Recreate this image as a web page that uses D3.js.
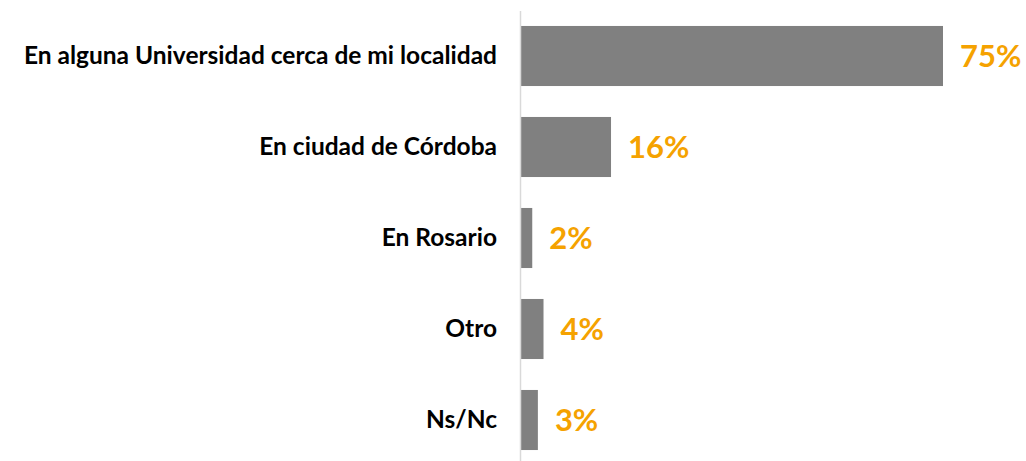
<!DOCTYPE html>
<html>
<head>
<meta charset="utf-8">
<script src="https://cdn.jsdelivr.net/npm/d3@7"></script>
<style>
    body { margin: 0; background: #fff; }
    .cat-axis text { font-family: Lato, "Open Sans", sans-serif; font-weight: 700; fill: #000; }
    .cat-axis path { stroke: #d9d9d9; stroke-width: 1.5; }
    .value-label { font-family: Lato, "Open Sans", sans-serif; font-weight: 700; fill: #f5a200; }
</style>
</head>
<body>
<div class="chart"></div>
<script>
(function () {
    "use strict";

    var categories = [
        'En alguna Universidad cerca de mi localidad',
        'En ciudad de Córdoba',
        'En Rosario',
        'Otro',
        'Ns/Nc'
    ];
    var values = [75, 16, 2, 4, 3];
    var valueLabels = ['75%', '16%', '2%', '4%', '3%'];

    var width = 1026, height = 461;

    var svg = d3.select('.chart').append('svg')
        .attr('width', width)
        .attr('height', height);

    var y = d3.scaleBand()
        .domain(categories)
        .range([10.5, 465.5])
        .paddingInner(0.34)
        .paddingOuter(0.17);

    var x = d3.scaleLinear()
        .domain([0, d3.max(values)])
        .range([521, 943]);

    var data = categories.map(function (c, i) {
        return { name: c, value: values[i], label: valueLabels[i] };
    });

    svg.selectAll('.bar')
        .data(data)
        .enter().append('rect')
        .attr('class', 'bar')
        .attr('x', x(0))
        .attr('y', function (d) { return y(d.name); })
        .attr('width', function (d) { return x(d.value) - x(0); })
        .attr('height', y.bandwidth())
        .attr('fill', '#808080');

    var yAxis = d3.axisLeft(y).tickSize(0).tickPadding(23);

    svg.append('g')
        .attr('class', 'cat-axis')
        .attr('transform', 'translate(520,0)')
        .call(yAxis)
        .selectAll('text')
        .style('font-size', '24.5px');

    svg.selectAll('.value-label')
        .data(data)
        .enter().append('text')
        .attr('class', 'value-label')
        .attr('x', function (d) { return x(d.value) + 17; })
        .attr('y', function (d) { return y(d.name) + y.bandwidth() / 2; })
        .attr('dy', '0.35em')
        .style('font-size', '31px')
        .text(function (d) { return d.label; });
})();
</script>
</body>
</html>
